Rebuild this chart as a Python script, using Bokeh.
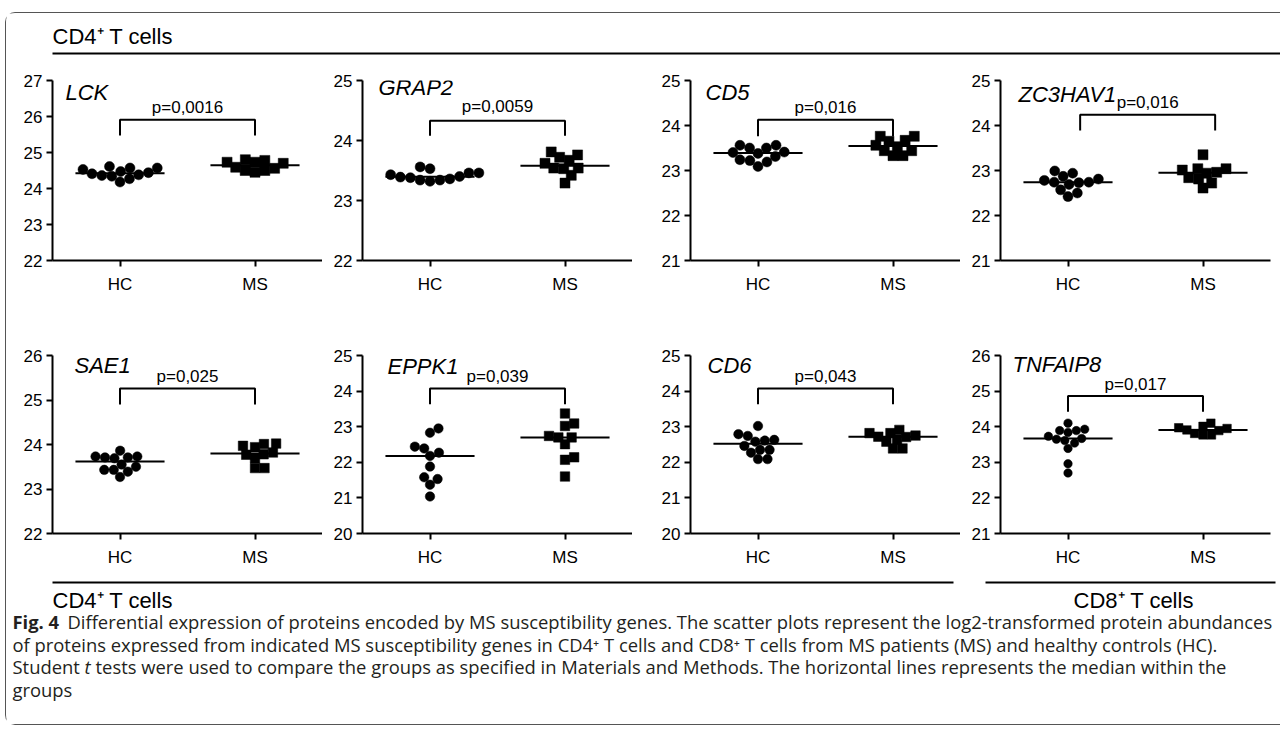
import numpy as np
from bokeh.plotting import figure
from bokeh.models import Range1d, FixedTicker
from bokeh.layouts import row, column
from bokeh.embed import file_html
from bokeh.resources import INLINE
from bokeh.core.properties import value

# ---------------- data ----------------
genes = ["LCK", "GRAP2", "CD5", "ZC3HAV1", "SAE1", "EPPK1", "CD6", "TNFAIP8"]
p_labels = ["p=0,0016", "p=0,0059", "p=0,016", "p=0,016",
            "p=0,025", "p=0,039", "p=0,043", "p=0,017"]
groups = ["HC", "MS"]
y_lo = [22, 22, 21, 21, 22, 20, 20, 21]
y_hi = [27, 25, 25, 25, 26, 25, 25, 26]

lck_hc = [24.44, 24.38, 24.61, 24.34, 24.18, 24.57, 24.27, 24.53, 24.57, 24.36, 24.41, 24.47]
lck_ms = [24.73, 24.59, 24.50, 24.80, 24.45, 24.78, 24.50, 24.56, 24.70, 24.73]
grap2_hc = [23.46, 23.40, 23.38, 23.34, 23.56, 23.32, 23.53, 23.34, 23.36, 23.39, 23.43, 23.46]
grap2_ms = [23.62, 23.81, 23.72, 23.76, 23.67, 23.53, 23.54, 23.54, 23.42, 23.29]
cd5_hc = [23.56, 23.50, 23.31, 23.38, 23.22, 23.40, 23.09, 23.41, 23.19, 23.50, 23.24, 23.56]
cd5_ms = [23.53, 23.76, 23.44, 23.65, 23.33, 23.67, 23.33, 23.76, 23.44, 23.56]
zc3hav1_hc = [22.81, 22.74, 22.69, 22.57, 22.94, 22.73, 22.42, 22.99, 22.50, 22.74, 22.78, 22.87]
zc3hav1_ms = [23.04, 22.96, 23.35, 22.94, 23.01, 23.04, 22.81, 22.72, 22.61, 22.84]
sae1_hc = [23.73, 23.71, 23.86, 23.69, 23.71, 23.73, 23.43, 23.27, 23.39, 23.43, 23.50, 23.55]
sae1_ms = [23.94, 23.69, 24.01, 23.77, 24.02, 23.82, 23.97, 23.47, 23.47, 23.78]
eppk1_hc = [22.44, 22.83, 22.95, 22.27, 22.18, 22.39, 21.88, 21.53, 21.58, 21.37, 21.04]
eppk1_ms = [23.37, 23.09, 23.02, 22.70, 22.70, 22.74, 22.51, 22.14, 22.07, 21.60]
cd6_hc = [22.63, 22.79, 23.02, 22.74, 22.35, 22.27, 22.46, 22.61, 22.35, 22.09, 22.09, 22.58]
cd6_ms = [22.91, 22.82, 22.82, 22.72, 22.71, 22.75, 22.58, 22.63, 22.39, 22.39]
tnfaip8_hc = [23.93, 23.89, 24.10, 23.84, 23.89, 23.65, 23.54, 23.73, 23.61, 23.67, 23.39, 22.96, 22.70]
tnfaip8_ms = [24.01, 23.91, 23.81, 24.10, 23.77, 23.97, 23.77, 23.89, 23.95]

hc_values = [lck_hc, grap2_hc, cd5_hc, zc3hav1_hc, sae1_hc, eppk1_hc, cd6_hc, tnfaip8_hc]
ms_values = [lck_ms, grap2_ms, cd5_ms, zc3hav1_ms, sae1_ms, eppk1_ms, cd6_ms, tnfaip8_ms]

# ---------------- layout / style (not data) ----------------
FONT = value("Liberation Sans")
CAP_FONT = value("Open Sans")
bracket_top = [25.91, 24.33, 24.13, 24.24, 25.26, 24.07, 24.07, 24.86]
bracket_leg = [25.47, 24.08, 23.76, 23.89, 24.90, 23.63, 23.63, 24.42]
ptext_y = [26.26, 24.56, 24.41, 24.52, 25.52, 24.41, 24.41, 25.19]
bracket_shift = [0, 0, 0, 0.09, 0, 0, 0, 0]
gene_dx = [13, 16, 15, 18, 22, 25, 17, 12]
gene_y = [26.67, 24.88, 24.74, 24.70, 25.78, 24.69, 24.72, 25.75]
marker_size = [10, 10, 10, 10, 9.5, 9.5, 9.5, 8.5]

FRAME_W = 270
left_b = [46, 40, 58, 40]
right_b = [0, 0, 0, 10]
row_geo = [(18, 180, 45), (50, 179, 35)]  # top border, frame height, bottom border
XR = (0.5, 2.5)
TOTAL_W = 1274


def swarm(vals, d_px, sy, sx):
    vals = np.asarray(vals, dtype=float)
    order = np.argsort(vals)
    placed = []
    offs = np.zeros(len(vals))
    for i in order:
        y = vals[i] * sy
        cands = [0.0]
        for xj, yj in placed:
            dy = abs(y - yj)
            if dy < d_px:
                dx = np.sqrt(d_px ** 2 - dy ** 2)
                cands += [xj + dx, xj - dx]

        def ok(x):
            return all((x - xj) ** 2 + (y - yj) ** 2 >= d_px ** 2 - 1e-6 for xj, yj in placed)

        valid = [c for c in cands if ok(c)]
        npos = sum(1 for xj, _ in placed if xj > 0.5)
        nneg = sum(1 for xj, _ in placed if xj < -0.5)
        pref = 1 if npos <= nneg else -1
        best = min(valid, key=lambda c: (round(abs(c), 3), -pref * np.sign(c)))
        placed.append((best, y))
        offs[i] = best / sx
    return offs


def panel(k, col_i, geo):
    top_b, fh, bot_b = geo
    lo, hi = y_lo[k], y_hi[k]
    w = left_b[col_i] + FRAME_W + right_b[col_i]
    h = top_b + fh + bot_b
    p = figure(width=w, height=h, x_range=Range1d(*XR), y_range=Range1d(lo, hi),
               output_backend="svg", toolbar_location=None,
               min_border_left=left_b[col_i], min_border_right=right_b[col_i],
               min_border_top=top_b, min_border_bottom=bot_b)
    p.xgrid.visible = False
    p.ygrid.visible = False
    p.outline_line_color = None
    p.background_fill_color = "white"
    p.border_fill_color = "white"

    sx = FRAME_W / (XR[1] - XR[0])
    sy = fh / (hi - lo)
    ms = marker_size[k]

    p.xaxis.ticker = FixedTicker(ticks=[1, 2])
    p.xaxis.major_label_overrides = {1: groups[0], 2: groups[1]}
    p.yaxis.ticker = FixedTicker(ticks=list(range(lo, hi + 1)))
    for ax in (p.xaxis[0], p.yaxis[0]):
        ax.axis_line_width = 2
        ax.axis_line_color = "black"
        ax.major_tick_line_width = 2
        ax.major_tick_line_color = "black"
        ax.major_tick_out = 6
        ax.major_tick_in = 0
        ax.minor_tick_line_color = None
        ax.major_label_text_font = "Liberation Sans"
        ax.major_label_text_font_size = "17px"
        ax.major_label_text_color = "black"
    p.xaxis.major_label_standoff = 8
    p.yaxis.major_label_standoff = 4

    for gi, (vals, mk) in enumerate(((hc_values[k], "circle"), (ms_values[k], "square"))):
        xc = gi + 1
        offs = swarm(vals, ms, sy, sx)
        p.scatter(x=xc + offs, y=vals, marker=mk, size=ms,
                  fill_color="black", line_color="black", line_width=0.5)
        med = float(np.median(vals))
        p.segment(x0=[xc - 0.33], y0=[med], x1=[xc + 0.33], y1=[med],
                  line_color="black", line_width=2)

    b = bracket_shift[k]
    p.line(x=[1 + b, 1 + b, 2 + b, 2 + b],
           y=[bracket_leg[k], bracket_top[k], bracket_top[k], bracket_leg[k]],
           line_color="black", line_width=2)
    p.text(x=[1.5 + b], y=[ptext_y[k]], text=[p_labels[k]], text_font=FONT,
           text_font_size="17px", text_align="center", text_baseline="middle",
           text_color="black")
    p.text(x=[XR[0] + gene_dx[k] / sx], y=[gene_y[k]], text=[genes[k]], text_font=FONT,
           text_font_size="22px", text_font_style="italic", text_align="left",
           text_baseline="middle", text_color="black")
    return p


# header
HH = 49
header = figure(width=TOTAL_W, height=HH, x_range=Range1d(0, TOTAL_W), y_range=Range1d(HH, 0),
                output_backend="svg", toolbar_location=None, min_border=0,
                x_axis_type=None, y_axis_type=None)
header.xgrid.visible = False
header.ygrid.visible = False
header.outline_line_color = None
header.text(x=[46], y=[23], text=["CD4⁺ T cells"], text_font=FONT, text_font_size="22px",
            text_align="left", text_baseline="alphabetic", text_color="black")
header.segment(x0=[46], y0=[40], x1=[TOTAL_W], y1=[40], line_color="black", line_width=2.2)

rows = []
for r in range(2):
    figs = [panel(4 * r + c, c, row_geo[r]) for c in range(4)]
    rows.append(row(*figs, spacing=0))

# footer
FH = 155
footer = figure(width=TOTAL_W, height=FH, x_range=Range1d(0, TOTAL_W), y_range=Range1d(FH, 0),
                output_backend="svg", toolbar_location=None, min_border=0,
                x_axis_type=None, y_axis_type=None)
footer.xgrid.visible = False
footer.ygrid.visible = False
footer.outline_line_color = None
footer.segment(x0=[46, 979], y0=[13, 13], x1=[947, 1269], y1=[13, 13],
               line_color="black", line_width=2.2)
footer.text(x=[46, 1067], y=[31, 31], text=["CD4⁺ T cells", "CD8⁺ T cells"], text_font=FONT,
            text_font_size="22px", text_align="left", text_baseline="alphabetic",
            text_color="black")

cap_color = "#231f20"
CAP_SIZE = "18.4px"
footer.text(x=[6], y=[52], text=["Fig. 4"], text_font=CAP_FONT, text_font_size=CAP_SIZE,
            text_font_style="bold", text_align="left", text_baseline="alphabetic",
            text_color=cap_color)
cap_x = [61, 6, 6, 89, 6]
cap_y = [52, 74.5, 97, 97, 119.5]
cap_t = ["Differential expression of proteins encoded by MS susceptibility genes. The scatter plots represent the log2-transformed protein abundances",
         "of proteins expressed from indicated MS susceptibility genes in CD4⁺ T cells and CD8⁺ T cells from MS patients (MS) and healthy controls (HC).",
         "Student",
         "tests were used to compare the groups as specified in Materials and Methods. The horizontal lines represents the median within the",
         "groups"]
footer.text(x=cap_x, y=cap_y, text=cap_t, text_font=CAP_FONT, text_font_size=CAP_SIZE,
            text_align="left", text_baseline="alphabetic", text_color=cap_color)
footer.text(x=[78], y=[97], text=["t"], text_font=CAP_FONT, text_font_size=CAP_SIZE,
            text_font_style="italic", text_align="left", text_baseline="alphabetic",
            text_color=cap_color)

layout = column(header, rows[0], rows[1], footer, spacing=0,
                styles={"margin-top": "12px",
                        "margin-left": "5px",
                        "border-left": "1px solid #555",
                        "border-top": "1px solid #555",
                        "border-bottom": "1px solid #555",
                        "border-top-left-radius": "10px",
                        "border-bottom-left-radius": "10px"})

open("out.html", "w").write(file_html(layout, INLINE))
